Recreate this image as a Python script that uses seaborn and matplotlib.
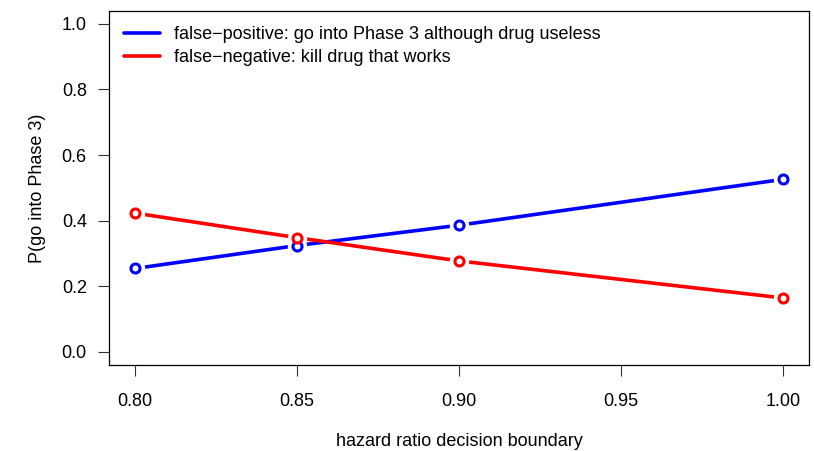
import matplotlib
matplotlib.use("Agg")
import matplotlib.pyplot as plt
import seaborn as sns
import pandas as pd

# hazard ratio boundaries and the two error probabilities
boundary = [0.80, 0.85, 0.90, 1.00]
false_pos = [0.254, 0.324, 0.386, 0.526]
false_neg = [0.423, 0.348, 0.277, 0.164]
labels = ["false\u2212positive: go into Phase 3 although drug useless",
          "false\u2212negative: kill drug that works"]
colors = ["#0000FF", "#FF0000"]
x_ticks = [0.80, 0.85, 0.90, 0.95, 1.00]
y_ticks = [0.0, 0.2, 0.4, 0.6, 0.8, 1.0]

sns.set_style("white")
plt.rcParams['font.family'] = ['Liberation Sans', 'DejaVu Sans']
plt.rcParams['text.color'] = 'black'
plt.rcParams['axes.labelcolor'] = 'black'
plt.rcParams['xtick.color'] = 'black'
plt.rcParams['ytick.color'] = 'black'

df = pd.DataFrame({
    "boundary": boundary * 2,
    "prob": false_pos + false_neg,
    "kind": [labels[0]] * len(boundary) + [labels[1]] * len(boundary),
})

fig = plt.figure(figsize=(8.14, 4.51), dpi=100)
ax = fig.add_axes([0.134, 0.191, 0.860, 0.785])

for lab, col in zip(labels, colors):
    sub = df[df["kind"] == lab]
    sns.lineplot(data=sub, x="boundary", y="prob", color=col, linewidth=2.6,
                 ax=ax, label=lab, zorder=2)
    # white halo to leave the gap R's type="b" gives
    ax.plot(sub["boundary"], sub["prob"], linestyle="none", marker="o",
            markersize=13, markerfacecolor="white", markeredgecolor="white",
            zorder=3)
    ax.plot(sub["boundary"], sub["prob"], linestyle="none", marker="o",
            markersize=6.5, markerfacecolor="white", markeredgecolor=col,
            markeredgewidth=2.2, zorder=4)

ax.set_xlim(0.792, 1.008)
ax.set_ylim(-0.04, 1.04)
ax.set_xticks(x_ticks)
ax.set_xticklabels([f"{v:.2f}" for v in x_ticks])
ax.set_yticks(y_ticks)
ax.set_yticklabels([f"{v:.1f}" for v in y_ticks])
ax.tick_params(direction="out", length=8, width=0.8, color="#333333",
               labelsize=13, bottom=True, left=True)
ax.tick_params(axis="x", pad=12)
ax.tick_params(axis="y", pad=8)
ax.set_xlabel("hazard ratio decision boundary", fontsize=13, labelpad=17)
ax.set_ylabel("P(go into Phase 3)", fontsize=13, labelpad=11)
for s in ax.spines.values():
    s.set_color("black")
    s.set_linewidth(0.9)

leg = ax.legend(loc="upper left", bbox_to_anchor=(0.021, 0.957), borderaxespad=0,
                fontsize=13, frameon=False, handlelength=2.0,
                handletextpad=0.8, labelspacing=0.32, borderpad=0)

fig.savefig("out.png", dpi=100)
